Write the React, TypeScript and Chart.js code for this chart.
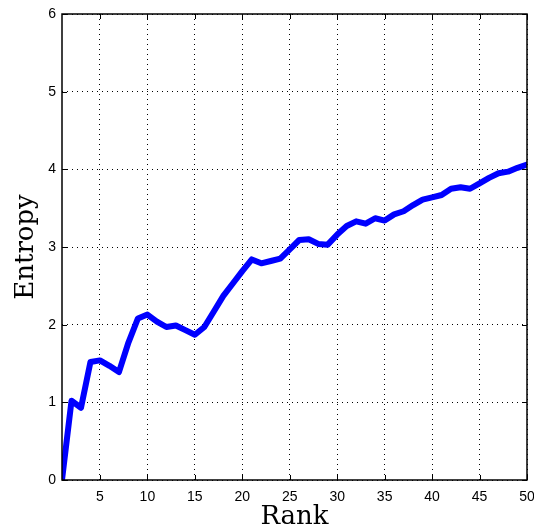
import React, { useEffect, useRef } from "react";
import { Chart, registerables } from "chart.js";

Chart.register(...registerables);

const ranks: number[] = Array.from({ length: 50 }, (_, i) => i + 1);
const entropy: number[] = [
  0, 1.02, 0.93, 1.52, 1.54, 1.47, 1.39, 1.77, 2.08, 2.13,
  2.04, 1.97, 1.99, 1.93, 1.87, 1.97, 2.17, 2.37, 2.53, 2.69,
  2.84, 2.79, 2.82, 2.85, 2.97, 3.09, 3.10, 3.04, 3.03, 3.16,
  3.27, 3.33, 3.30, 3.37, 3.34, 3.42, 3.46, 3.54, 3.61, 3.64,
  3.67, 3.75, 3.77, 3.75, 3.82, 3.89, 3.95, 3.97, 4.02, 4.06,
];
const xTicks: number[] = [5, 10, 15, 20, 25, 30, 35, 40, 45, 50];
const yTicks: number[] = [0, 1, 2, 3, 4, 5, 6];
const xTitle = "Rank";
const yTitle = "Entropy";

const framePlugin = {
  id: "frame",
  afterDraw(chart: any) {
    const { ctx, chartArea } = chart;
    const { left, right, top, bottom } = chartArea;
    const xs = chart.scales.x;
    const ys = chart.scales.y;
    ctx.save();
    ctx.setLineDash([]);
    ctx.strokeStyle = "#000";
    ctx.lineWidth = 1.5;
    ctx.strokeRect(left, top, right - left, bottom - top);
    ctx.lineWidth = 1;
    const tl = 5;
    ctx.beginPath();
    for (const v of xTicks) {
      const px = Math.round(xs.getPixelForValue(v)) + 0.5;
      ctx.moveTo(px, bottom);
      ctx.lineTo(px, bottom - tl);
      ctx.moveTo(px, top);
      ctx.lineTo(px, top + tl);
    }
    for (const v of yTicks) {
      const py = Math.round(ys.getPixelForValue(v)) + 0.5;
      ctx.moveTo(left, py);
      ctx.lineTo(left + tl, py);
      ctx.moveTo(right, py);
      ctx.lineTo(right - tl, py);
    }
    ctx.stroke();
    ctx.fillStyle = "#000";
    ctx.font = "26px 'DejaVu Serif'";
    ctx.textAlign = "center";
    ctx.textBaseline = "alphabetic";
    ctx.fillText(xTitle, (left + right) / 2, 524);
    ctx.translate(33, (top + bottom) / 2);
    ctx.rotate(-Math.PI / 2);
    ctx.fillText(yTitle, 0, 0);
    ctx.restore();
  },
};

export default function App() {
  const ref = useRef<HTMLCanvasElement | null>(null);
  useEffect(() => {
    if (!ref.current) return;
    const chart = new Chart(ref.current, {
      type: "line",
      data: {
        datasets: [
          {
            data: ranks.map((r, i) => ({ x: r, y: entropy[i] })),
            borderColor: "#0000ff",
            backgroundColor: "#0000ff",
            borderWidth: 6,
            pointRadius: 0,
            tension: 0,
            borderJoinStyle: "round",
            borderCapStyle: "round",
          },
        ],
      },
      options: {
        responsive: false,
        animation: false,
        layout: { padding: { top: 14, right: 7, left: 0, bottom: 0 } },
        plugins: { legend: { display: false }, tooltip: { enabled: false } },
        scales: {
          x: {
            type: "linear",
            min: 1,
            max: 50,
            afterBuildTicks: (s: any) => {
              s.ticks = xTicks.map((v) => ({ value: v }));
            },
            afterFit: (s: any) => {
              s.height = 52;
              s.paddingLeft = 0;
              s.paddingRight = 0;
            },
            grid: { color: "#000", lineWidth: 1, drawTicks: false },
            border: { display: false, dash: [1, 4] },
            ticks: {
              color: "#000",
              padding: 9,
              maxRotation: 0,
              font: { family: "'Liberation Sans'", size: 14 },
            },
          },
          y: {
            type: "linear",
            min: 0,
            max: 6,
            afterBuildTicks: (s: any) => {
              s.ticks = yTicks.map((v) => ({ value: v }));
            },
            afterFit: (s: any) => {
              s.width = 62;
              s.paddingTop = 0;
              s.paddingBottom = 0;
            },
            grid: { color: "#000", lineWidth: 1, drawTicks: false },
            border: { display: false, dash: [1, 4] },
            ticks: {
              color: "#000",
              padding: 6,
              font: { family: "'Liberation Sans'", size: 14 },
            },
          },
        },
      },
      plugins: [framePlugin],
    } as any);
    return () => chart.destroy();
  }, []);
  return (
    <div style={{ position: "absolute", left: 0, top: 0, width: 534, height: 532, background: "#fff" }}>
      <canvas ref={ref} width={534} height={532} />
    </div>
  );
}
